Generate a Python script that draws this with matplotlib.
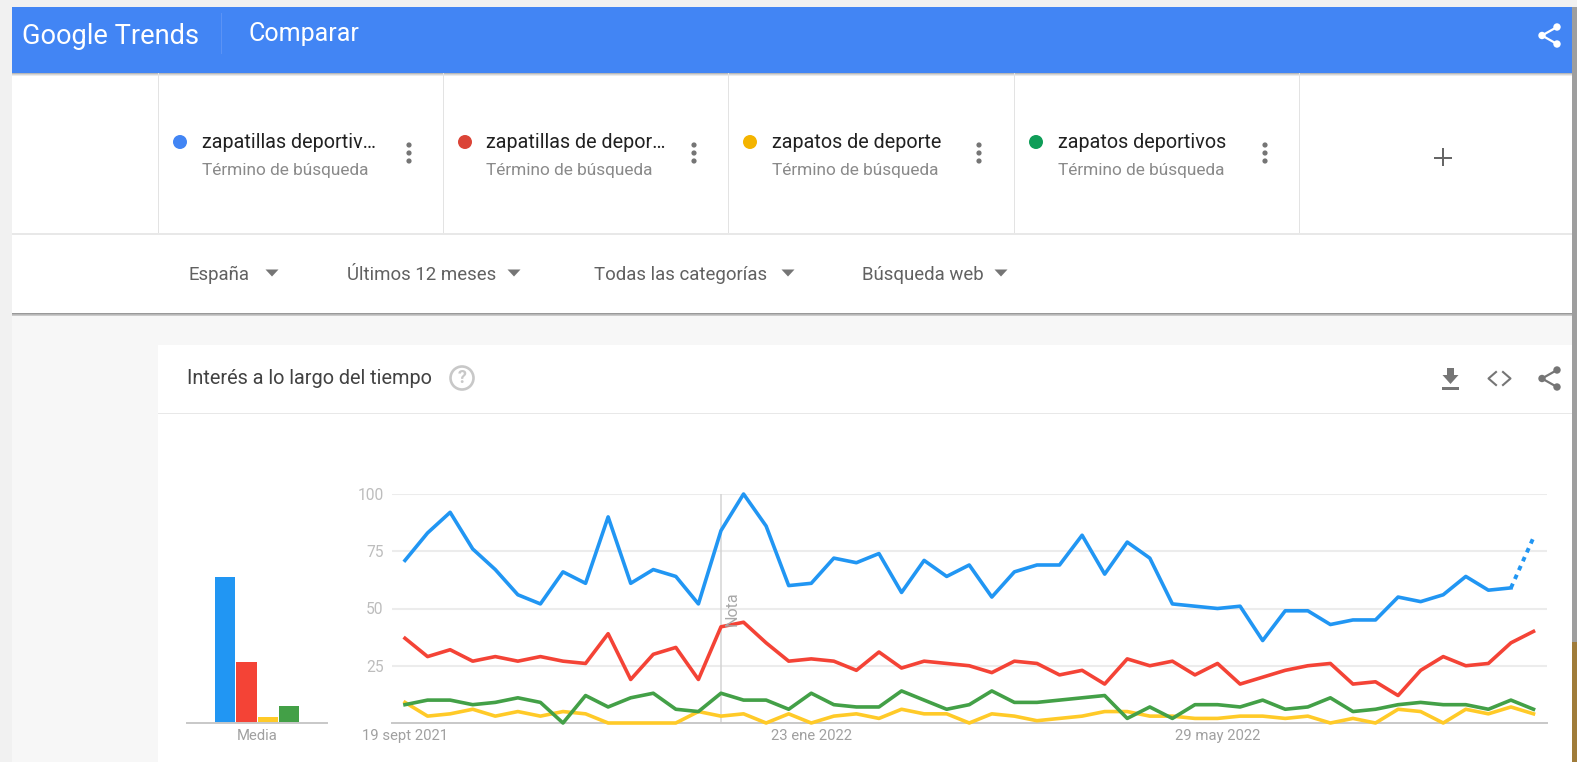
import matplotlib
matplotlib.use("Agg")
import matplotlib.pyplot as plt
from matplotlib.patches import Rectangle, Circle, Polygon

plt.rcParams['font.family'] = ['Roboto', 'DejaVu Sans']

W, H = 1577, 762

# ---- data ----
tick_labels = ["19 sept 2021", "23 ene 2022", "29 may 2022"]
tick_index = [0, 18, 36]
y_ticks = [25, 50, 75, 100]
note_index = 14
terms = ["zapatillas deportiv…", "zapatillas de depor…", "zapatos de deporte", "zapatos deportivos"]
filters = ["España", "Últimos 12 meses", "Todas las categorías", "Búsqueda web"]
blue = [71, 83, 92, 76, 67, 56, 52, 66, 61, 90, 61, 67, 64, 52, 84, 100, 86, 60, 61, 72,
        70, 74, 57, 71, 64, 69, 55, 66, 69, 69, 82, 65, 79, 72, 52, 51, 50, 51, 36, 49,
        49, 43, 45, 45, 55, 53, 56, 64, 58, 59, 81]
red = [37, 29, 32, 27, 29, 27, 29, 27, 26, 39, 19, 30, 33, 19, 42, 44, 35, 27, 28, 27,
       23, 31, 24, 27, 26, 25, 22, 27, 26, 21, 23, 17, 28, 25, 27, 21, 26, 17, 20, 23,
       25, 26, 17, 18, 12, 23, 29, 25, 26, 35, 40]
yellow = [9, 3, 4, 6, 3, 5, 3, 5, 4, 0, 0, 0, 0, 5, 3, 4, 0, 4, 0, 3,
          4, 2, 6, 4, 4, 0, 4, 3, 1, 2, 3, 5, 5, 3, 3, 2, 2, 3, 3, 2,
          3, 0, 2, 0, 6, 5, 0, 6, 4, 7, 4]
green = [8, 10, 10, 8, 9, 11, 9, 0, 12, 7, 11, 13, 6, 5, 13, 10, 10, 6, 13, 8,
         7, 7, 14, 10, 6, 8, 14, 9, 9, 10, 11, 12, 2, 7, 2, 8, 8, 7, 10, 6,
         7, 11, 5, 6, 8, 9, 8, 8, 6, 10, 6]
means = [63.7, 26.6, 2.6, 7.4]

LINE_COLORS = ["#2196f3", "#f44336", "#ffca28", "#43a047"]
DOT_COLORS = ["#4285f4", "#db4437", "#f4b400", "#0f9d58"]
GRID = "#ececec"
LABEL = "#bdbdbd"

fig = plt.figure(figsize=(W / 100, H / 100), dpi=100, facecolor="#f1f1f1")

# page-chrome canvas in pixels (y down)
ui = fig.add_axes([0, 0, 1, 1], zorder=0)
ui.set_xlim(0, W)
ui.set_ylim(H, 0)
ui.axis("off")


def rect(x0, y0, x1, y1, c, z=1):
    ui.add_patch(Rectangle((x0, y0), x1 - x0, y1 - y0, fc=c, ec="none", zorder=z))


def share(cx, cy, c):
    pts = [(cx + 7.5, cy - 8.5), (cx - 7.5, cy), (cx + 7.5, cy + 8.5)]
    ui.plot(*zip(*pts), color=c, lw=1.6, zorder=5)
    for px, py in pts:
        ui.add_patch(Circle((px, py), 3.7, fc=c, ec="none", zorder=5))


def caret(x, y):
    ui.add_patch(Polygon([(x - 6.5, y - 3.5), (x + 6.5, y - 3.5), (x, y + 3.5)], fc="#757575", ec="none", zorder=5))


# page areas
rect(12, 7, 1572, 762, "#f7f7f7")
rect(1572, 7, 1577, 642, "#9e9e9e")
rect(1572, 642, 1577, 762, "#a07c3a")
rect(12, 73, 1572, 313, "#ffffff")
for i, a in enumerate([0.28, 0.16, 0.08]):
    ui.add_patch(Rectangle((12, 73 + i), 1560, 1, fc="black", alpha=a, ec="none", zorder=2))
    ui.add_patch(Rectangle((12, 313 + i), 1560, 1, fc="black", alpha=a + 0.1, ec="none", zorder=2))
rect(12, 7, 1572, 73, "#4285f4", 3)
rect(158, 345, 1572, 762, "#ffffff")
rect(158, 413, 1572, 414, "#e8e8e8")
rect(12, 233, 1572, 234.5, "#e8e8e8")

# header
ui.text(22, 36, "Google Trends", color="white", fontsize=19.6, va="center", ha="left", zorder=5)
rect(220.5, 13, 221.5, 54, "#5b93f5", 5)
ui.text(249, 34.5, "Comparar", color="white", fontsize=18, va="center", ha="left", zorder=5)
share(1549.5, 35.5, "white")

# search-term columns
col_x = [158, 443, 728, 1014]
for x in col_x + [1299]:
    rect(x, 73, x + 1, 233, "#e3e3e3", 2)
for x, term, dot in zip(col_x, terms, DOT_COLORS):
    ui.add_patch(Circle((x + 22, 142), 7, fc=dot, ec="none", zorder=5))
    ui.text(x + 43.5, 142.5, term, color="#212121", fontsize=14.2, va="center", ha="left", zorder=5)
    ui.text(x + 43.5, 170, "Término de búsqueda", color="#8a8a8a", fontsize=12.4, va="center", ha="left", zorder=5)
    for dy in (-8, 0, 8):
        ui.add_patch(Circle((x + 251, 153 + dy), 2.6, fc="#757575", ec="none", zorder=5))
rect(1434, 157, 1452, 158.6, "#666666", 5)
rect(1442.2, 148, 1443.8, 166, "#666666", 5)

# filter row
filter_x = [189, 347, 594, 862]
caret_x = [272, 514, 788, 1001]
for x, label, cx in zip(filter_x, filters, caret_x):
    ui.text(x, 274.5, label, color="#616161", fontsize=13.4, va="center", ha="left", zorder=5)
    caret(cx, 273)

# card header
ui.text(187, 379, "Interés a lo largo del tiempo", color="#424242", fontsize=14.3, va="center", ha="left", zorder=5)
ui.add_patch(Circle((462, 378), 11.5, fc="none", ec="#c8c8c8", lw=1.9, zorder=5))
ui.text(462, 378, "?", color="#c8c8c8", fontsize=13, weight="bold", va="center", ha="center", zorder=5)
ui.add_patch(Polygon([(1442.5, 375), (1447, 375), (1447, 368), (1454, 368), (1454, 375), (1458.5, 375), (1450.5, 384)],
                     fc="#757575", ec="none", zorder=5))
rect(1442, 387, 1458.5, 389.5, "#757575", 5)
ui.plot([1496, 1488.5, 1496], [372, 378.5, 385], color="#757575", lw=1.5, zorder=5)
ui.plot([1503, 1510.5, 1503], [372, 378.5, 385], color="#757575", lw=1.5, zorder=5)
share(1549.5, 378.5, "#757575")


def chart_axes(x0, x1, y_top, y_bot, zorder=3):
    ax = fig.add_axes([x0 / W, 1 - y_bot / H, (x1 - x0) / W, (y_bot - y_top) / H], zorder=zorder)
    ax.patch.set_alpha(0)
    for s in ("top", "right", "left"):
        ax.spines[s].set_visible(False)
    ax.spines["bottom"].set_color("#c8c8c8")
    ax.spines["bottom"].set_linewidth(1.4)
    ax.set_ylim(0, 100)
    return ax


# time series
ax = chart_axes(392, 1547, 494, 723)
step = 22.57
ax.set_xlim((392 - 405) / step, (1547 - 405) / step)
ax.set_yticks(y_ticks)
ax.set_yticklabels([str(v) for v in y_ticks], color=LABEL, fontsize=11.2)
ax.set_xticks(tick_index)
ax.set_xticklabels(tick_labels, color="#a0a0a0", fontsize=10.7)
ax.tick_params(axis="both", length=0)
ax.tick_params(axis="x", pad=4)
ax.tick_params(axis="y", pad=6)
ax.grid(axis="y", color=GRID, lw=1.5)
ax.set_axisbelow(True)
ax.axvline(note_index + (721 - (405 + note_index * step)) / step, color="#d4d4d4", lw=1.1, zorder=1)
xs = list(range(len(blue)))
for vals, color, z in ((yellow, LINE_COLORS[2], 3), (green, LINE_COLORS[3], 4), (red, LINE_COLORS[1], 5)):
    ax.plot(xs, vals, color=color, lw=2.6, clip_on=False, zorder=z, solid_joinstyle="round")
ax.plot(xs[:-1], blue[:-1], color=LINE_COLORS[0], lw=2.6, clip_on=False, zorder=6, solid_joinstyle="round")
ax.plot(xs[-2:], blue[-2:], color=LINE_COLORS[0], lw=2.8, clip_on=False, zorder=6, linestyle=(0, (1.2, 1.3)))
ax.annotate("Nota", xy=(note_index, 42), xytext=(732, 609), textcoords=ui.transData, rotation=90,
            color="#a8a8a8", fontsize=11.5, ha="center", va="center", zorder=7)

# average bars
bx = chart_axes(187, 327, 494, 723)
bar_step = 21.4
bx.set_xlim((187 - 225) / bar_step, (327 - 225) / bar_step)
bx.set_yticks([])
bx.set_xticks([1.5])
bx.set_xticklabels(["Media"], color="#a0a0a0", fontsize=10.7)
bx.tick_params(axis="x", length=0, pad=4)
bx.bar(range(4), means, width=0.95, color=LINE_COLORS, zorder=2)

fig.savefig("out.png", dpi=100, facecolor=fig.get_facecolor())
